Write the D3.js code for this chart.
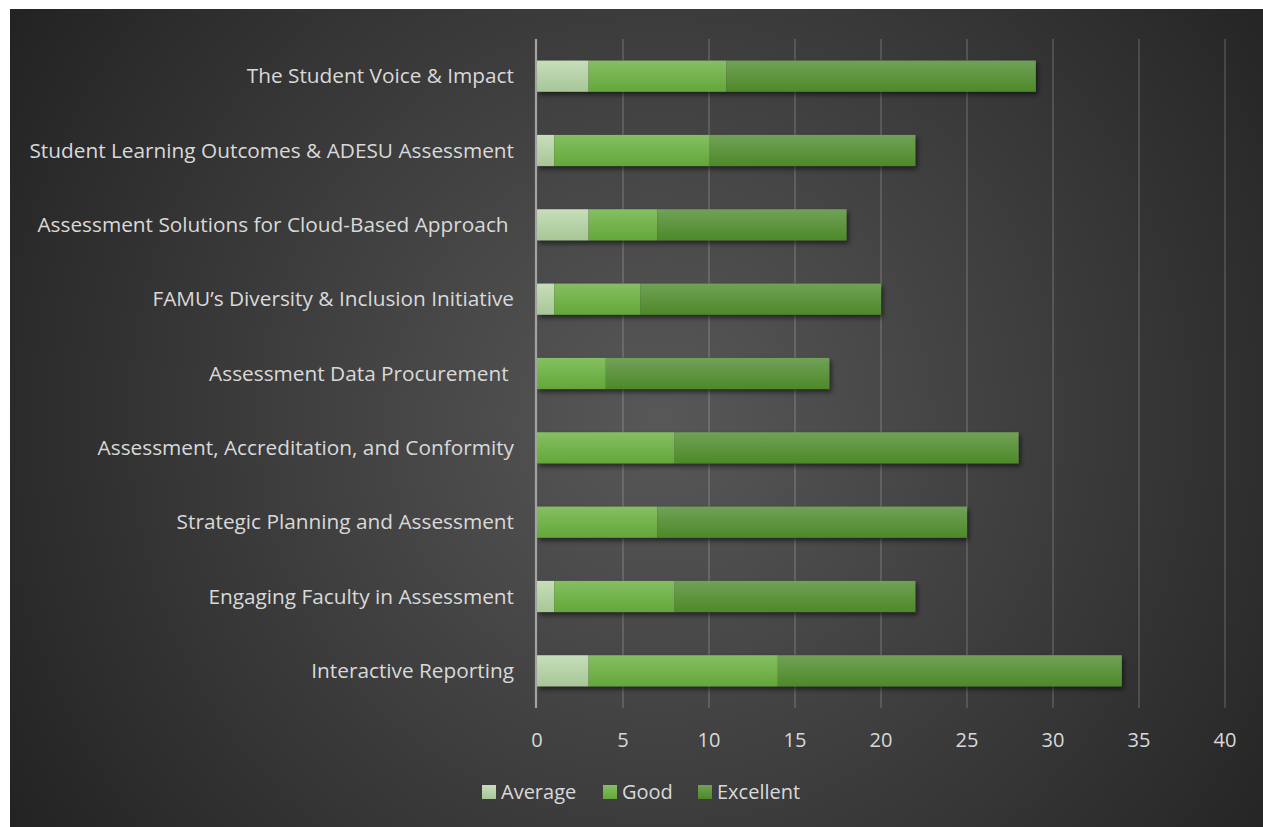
<!DOCTYPE html>
<html>
<head>
<meta charset="utf-8">
<script src="https://cdn.jsdelivr.net/npm/d3@7"></script>
<style>
  html, body { margin: 0; padding: 0; background: #fff; }
  svg text { font-family: "Open Sans", "DejaVu Sans", sans-serif; fill: #d9d9d9; white-space: pre; }
</style>
</head>
<body>
<div id="chart"></div>
<script>
var categories = [
    "The Student Voice & Impact",
    "Student Learning Outcomes & ADESU Assessment",
    "Assessment Solutions for Cloud-Based Approach ",
    "FAMU\u2019s Diversity & Inclusion Initiative",
    "Assessment Data Procurement ",
    "Assessment, Accreditation, and Conformity",
    "Strategic Planning and Assessment",
    "Engaging Faculty in Assessment",
    "Interactive Reporting"
];
var seriesNames = ["Average", "Good", "Excellent"];
var average   = [3, 1, 3, 1, 0, 0, 0, 1, 3];
var good      = [8, 9, 4, 5, 4, 8, 7, 7, 11];
var excellent = [18, 12, 11, 14, 13, 20, 18, 14, 20];
var xTicks = [0, 5, 10, 15, 20, 25, 30, 35, 40];

var w = 1263;
var h = 827;

var svg = d3.select("#chart")
            .append("svg")
            .attr("width", w)
            .attr("height", h);

var defs = svg.append("defs");

var bg = defs.append("radialGradient")
             .attr("id", "bg")
             .attr("gradientUnits", "userSpaceOnUse")
             .attr("cx", 660).attr("cy", 420).attr("r", 760);
bg.append("stop").attr("offset", "0%").attr("stop-color", "#585858");
bg.append("stop").attr("offset", "100%").attr("stop-color", "#232323");

var barColors = [
    ["#c7deba", "#a7c697"],
    ["#85bf62", "#63a739"],
    ["#71a157", "#4d8928"]
];
barColors.forEach(function (c, i) {
    var g = defs.append("linearGradient")
                .attr("id", "grad" + i)
                .attr("x1", 0).attr("y1", 0).attr("x2", 0).attr("y2", 1);
    g.append("stop").attr("offset", "0%").attr("stop-color", c[0]);
    g.append("stop").attr("offset", "100%").attr("stop-color", c[1]);
});

var shadow = defs.append("filter")
                 .attr("id", "shadow")
                 .attr("x", "-5%").attr("y", "-30%")
                 .attr("width", "110%").attr("height", "180%");
shadow.append("feDropShadow")
      .attr("dx", 2).attr("dy", 3)
      .attr("stdDeviation", 2.5)
      .attr("flood-color", "#000")
      .attr("flood-opacity", 0.55);

svg.append("rect")
   .attr("x", 10).attr("y", 9)
   .attr("width", w - 10).attr("height", h - 9)
   .attr("fill", "url(#bg)");

var x = d3.scaleLinear().domain([0, 40]).range([537, 1225]);
var y = d3.scaleBand()
          .domain(categories)
          .range([39, 708])
          .paddingInner(0.58)
          .paddingOuter(0.29);

// gridlines
svg.append("g")
   .selectAll("line")
   .data(xTicks.slice(1))
   .enter()
   .append("line")
   .attr("x1", function (d) { return x(d); })
   .attr("x2", function (d) { return x(d); })
   .attr("y1", 39)
   .attr("y2", 708)
   .attr("stroke", "rgba(255,255,255,0.14)")
   .attr("stroke-width", 2);

// stacked bars
var rows = categories.map(function (c, i) {
    return { cat: c, Average: average[i], Good: good[i], Excellent: excellent[i] };
});
var stacked = d3.stack().keys(seriesNames)(rows);

var barGroup = svg.append("g");
// shadow under each whole bar
barGroup.selectAll("rect.sh")
        .data(rows)
        .enter()
        .append("rect")
        .attr("class", "sh")
        .attr("x", x(0))
        .attr("y", function (d) { return y(d.cat); })
        .attr("width", function (d) { return x(d.Average + d.Good + d.Excellent) - x(0); })
        .attr("height", y.bandwidth())
        .attr("fill", "#444")
        .attr("filter", "url(#shadow)");

stacked.forEach(function (layer, i) {
    barGroup.append("g")
            .selectAll("rect")
            .data(layer)
            .enter()
            .append("rect")
            .attr("x", function (d) { return x(d[0]); })
            .attr("y", function (d) { return y(d.data.cat); })
            .attr("width", function (d) { return x(d[1]) - x(d[0]); })
            .attr("height", y.bandwidth())
            .attr("fill", "url(#grad" + i + ")");
});

// axis line at 0
svg.append("line")
   .attr("x1", x(0) - 1).attr("x2", x(0) - 1)
   .attr("y1", 39).attr("y2", 708)
   .attr("stroke", "#a3a3a3")
   .attr("stroke-width", 2.2);

// category labels
svg.append("g")
   .selectAll("text")
   .data(categories)
   .enter()
   .append("text")
   .attr("x", 514)
   .attr("y", function (d) { return y(d) + y.bandwidth() / 2; })
   .attr("dy", "0.35em")
   .attr("text-anchor", "end")
   .style("font-size", "20.8px")
   .text(function (d) { return d; });

// tick labels
svg.append("g")
   .selectAll("text")
   .data(xTicks)
   .enter()
   .append("text")
   .attr("x", function (d) { return x(d); })
   .attr("y", 740)
   .attr("dy", "0.35em")
   .attr("text-anchor", "middle")
   .style("font-size", "20px")
   .text(function (d) { return d; });

// legend
var legendX = [482, 603, 698];
var legend = svg.append("g")
                .selectAll("g")
                .data(seriesNames)
                .enter()
                .append("g")
                .attr("transform", function (d, i) { return "translate(" + legendX[i] + ",792)"; });
legend.append("rect")
      .attr("x", 0).attr("y", -7)
      .attr("width", 14).attr("height", 14)
      .attr("fill", function (d, i) { return "url(#grad" + i + ")"; });
legend.append("text")
      .attr("x", 19)
      .attr("dy", "0.35em")
      .style("font-size", "20px")
      .text(function (d) { return d; });
</script>
</body>
</html>
